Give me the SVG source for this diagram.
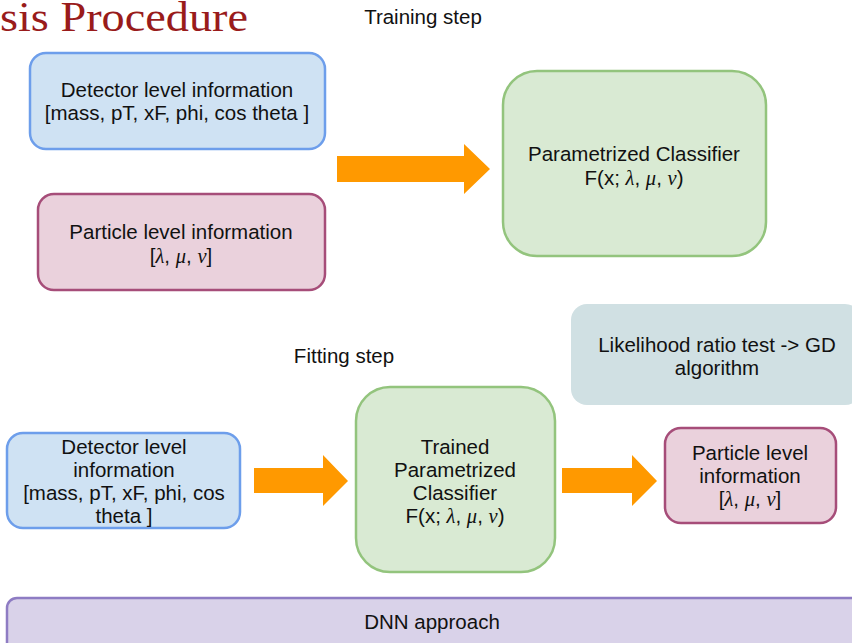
<svg xmlns="http://www.w3.org/2000/svg" width="852" height="643" viewBox="0 0 852 643">
<style>
.t{font-family:"Liberation Sans",Arial,sans-serif;font-size:20.5px;fill:#111;text-anchor:middle}
.g{font-family:"Liberation Serif","Times New Roman",serif;font-style:italic}
.blue{fill:#cfe2f3;stroke:#6d9eeb;stroke-width:2.5}
.pink{fill:#ead1dc;stroke:#a64d79;stroke-width:2.5}
.green{fill:#d9ead3;stroke:#93c47d;stroke-width:2.5}
.arrow{fill:#ff9900}
</style>
<rect width="852" height="643" fill="#ffffff"/>
<text x="0" y="31" font-family="'Liberation Serif','Times New Roman',serif" font-size="42" fill="#991b1b" textLength="248" lengthAdjust="spacingAndGlyphs">sis Procedure</text>
<text class="t" x="423" y="24" font-size="19">Training step</text>
<text class="t" x="344" y="363" font-size="19">Fitting step</text>

<g id="connectors">
<polygon class="arrow" points="337,156 464,156 464,144 490,169 464,194 464,182 337,182"/>
<polygon class="arrow" points="254,468 323,468 323,455 348,481 323,506 323,493 254,493"/>
<polygon class="arrow" points="562,468 632,468 632,455 657,481 632,506 632,493 562,493"/>
</g>

<g id="detector-top">
<rect class="blue" x="30" y="53" width="295" height="96" rx="16"/>
<text class="t" x="177" y="97">Detector level information</text>
<text class="t" x="177" y="120">[mass, pT, xF, phi, cos theta ]</text>
</g>

<g id="particle-top">
<rect class="pink" x="38" y="194" width="287" height="96" rx="16"/>
<text class="t" x="181" y="239">Particle level information</text>
<text class="t" x="181" y="263">[<tspan class="g">λ</tspan>, <tspan class="g">μ</tspan>, <tspan class="g">ν</tspan>]</text>
</g>

<g id="param-classifier">
<rect class="green" x="503" y="71" width="263" height="185" rx="34"/>
<text class="t" x="634" y="161">Parametrized Classifier</text>
<text class="t" x="634" y="185">F(x; <tspan class="g">λ</tspan>, <tspan class="g">μ</tspan>, <tspan class="g">ν</tspan>)</text>
</g>

<g id="likelihood">
<rect x="571" y="304" width="290" height="101" rx="16" fill="#d0e0e3"/>
<text class="t" x="717" y="352">Likelihood ratio test -&gt; GD</text>
<text class="t" x="717" y="375">algorithm</text>
</g>

<g id="detector-bottom">
<rect class="blue" x="7" y="433" width="233" height="95" rx="16"/>
<text class="t" x="124" y="454">Detector level</text>
<text class="t" x="124" y="477">information</text>
<text class="t" x="124" y="500">[mass, pT, xF, phi, cos</text>
<text class="t" x="124" y="523">theta ]</text>
</g>

<g id="trained-classifier">
<rect class="green" x="356" y="387" width="199" height="185" rx="34"/>
<text class="t" x="455" y="454">Trained</text>
<text class="t" x="455" y="477">Parametrized</text>
<text class="t" x="455" y="500">Classifier</text>
<text class="t" x="455" y="523">F(x; <tspan class="g">λ</tspan>, <tspan class="g">μ</tspan>, <tspan class="g">ν</tspan>)</text>
</g>

<g id="particle-bottom">
<rect class="pink" x="665" y="428" width="171" height="95" rx="16"/>
<text class="t" x="750" y="460">Particle level</text>
<text class="t" x="750" y="483">information</text>
<text class="t" x="750" y="506">[<tspan class="g">λ</tspan>, <tspan class="g">μ</tspan>, <tspan class="g">ν</tspan>]</text>
</g>

<g id="dnn">
<rect x="7" y="598" width="860" height="60" rx="10" fill="#d9d2e9" stroke="#8e7cc3" stroke-width="2.5"/>
<text class="t" x="432" y="629" font-size="19">DNN approach</text>
</g>
</svg>
